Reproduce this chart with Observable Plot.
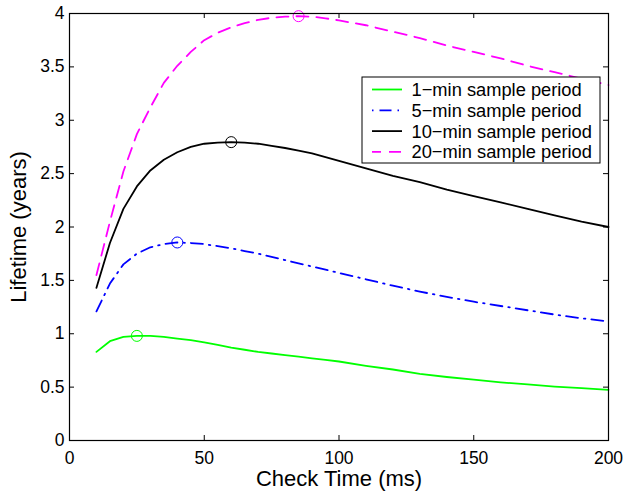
<!DOCTYPE html>
<html>
<head>
<meta charset="utf-8">
<script src="https://cdn.jsdelivr.net/npm/d3@7"></script>
<script src="https://cdn.jsdelivr.net/npm/@observablehq/plot@0.6"></script>
<style>
  html, body { margin: 0; padding: 0; background: #fff; }
  #chart { position: relative; width: 624px; height: 494px; }
  svg { font-family: "Liberation Sans", Arial, Helvetica, sans-serif; }
</style>
</head>
<body>
<div id="chart"></div>
<script>
// ---- data ----
const checkTime = [10,15,20,25,30,35,40,45,50,55,60,65,70,75,80,85,90,95,100,110,120,130,140,150,160,170,180,190,200];
const life1min  = [0.83,0.93,0.97,0.98,0.98,0.97,0.955,0.94,0.92,0.895,0.87,0.85,0.83,0.815,0.80,0.785,0.77,0.755,0.74,0.70,0.665,0.625,0.595,0.57,0.545,0.525,0.505,0.49,0.475];
const life5min  = [1.21,1.47,1.65,1.75,1.81,1.84,1.855,1.85,1.84,1.82,1.80,1.775,1.75,1.72,1.69,1.66,1.63,1.60,1.57,1.51,1.45,1.395,1.345,1.30,1.26,1.22,1.18,1.145,1.115];
const life10min = [1.43,1.85,2.17,2.38,2.53,2.63,2.70,2.75,2.78,2.79,2.795,2.79,2.78,2.76,2.74,2.715,2.69,2.655,2.62,2.55,2.48,2.42,2.35,2.29,2.23,2.17,2.11,2.05,2.0];
const life20min = [1.55,2.05,2.52,2.87,3.12,3.35,3.51,3.64,3.75,3.82,3.87,3.91,3.94,3.96,3.97,3.975,3.97,3.955,3.935,3.89,3.83,3.77,3.70,3.64,3.58,3.51,3.45,3.39,3.33];
const seriesNames = ["1\u2212min sample period","5\u2212min sample period","10\u2212min sample period","20\u2212min sample period"];
const xTicks = [0,50,100,150,200];
const yTicks = [0,0.5,1,1.5,2,2.5,3,3.5,4];
const xLabel = "Check Time (ms)";
const yLabel = "Lifetime (years)";

// ---- styles ----
const styles = [
  {stroke:"#00ff00", dash:null, legendDash:null},
  {stroke:"#0000ff", dash:"12,6,1.5,6", legendDash:"1.5,6,12,6"},
  {stroke:"#000000", dash:null, legendDash:null},
  {stroke:"#ff00ff", dash:"12,8", legendDash:"9,8,12,8"}
];
const values = [life1min, life5min, life10min, life20min];
const series = values.map((v, i) => checkTime.map((t, j) => ({t, v: v[j], s: seriesNames[i]})));
const peaks = series.map(d => d3.greatest(d, p => p.v));

const W = 624, H = 494, mL = 69, mR = 16, mT = 13, mB = 54;
const innerH = H - mT - mB;
const innerW = W - mL - mR;

const marks = [];
series.forEach((d, i) => {
  marks.push(Plot.line(d, {x:"t", y:"v", stroke: styles[i].stroke, strokeWidth: 1.8,
    strokeDasharray: styles[i].dash || undefined, strokeLinejoin:"round"}));
});
peaks.forEach((p, i) => {
  marks.push(Plot.dot([p], {x:"t", y:"v", r:5.5, stroke: styles[i].stroke, strokeWidth:1, fill:"none"}));
});
marks.push(
  Plot.tickX(xTicks, {x: d => d, stroke:"#000", strokeWidth:1, insetTop: innerH - 5}),
  Plot.tickX(xTicks, {x: d => d, stroke:"#000", strokeWidth:1, insetBottom: innerH - 5}),
  Plot.tickY(yTicks, {y: d => d, stroke:"#000", strokeWidth:1, insetRight: innerW - 5}),
  Plot.tickY(yTicks, {y: d => d, stroke:"#000", strokeWidth:1, insetLeft: innerW - 5}),
  Plot.frame({stroke:"#000", strokeWidth:1.2}),
  Plot.axisX(xTicks, {tickSize:0, tickPadding:11, fontSize:17.5, label:null, tickFormat: d => String(d)}),
  Plot.axisY(yTicks, {tickSize:0, tickPadding:5, fontSize:17.5, label:null, tickFormat: d => String(d)}),
  Plot.text([xLabel], {frameAnchor:"bottom", dy:38.5, fontSize:22, lineAnchor:"middle", textAnchor:"middle", fill:"#000"}),
  Plot.text([yLabel], {frameAnchor:"left", dx:-51, rotate:-90, fontSize:22, lineAnchor:"middle", textAnchor:"middle", fill:"#000"})
);

const chart = Plot.plot({
  width: W, height: H,
  marginLeft: mL, marginRight: mR, marginTop: mT, marginBottom: mB,
  style: {fontFamily: '"Liberation Sans", Arial, Helvetica, sans-serif', color:"#000", background:"#fff", overflow:"visible"},
  x: {domain:[0,200]},
  y: {domain:[0,4]},
  marks
});
document.getElementById("chart").appendChild(chart);

// ---- legend (inside the axes, top right) ----
const svg = d3.select(chart);
const lg = svg.append("g").attr("transform", "translate(362,77)");
lg.append("rect").attr("width", 238).attr("height", 86).attr("fill", "#fff").attr("stroke", "#000").attr("stroke-width", 1);
seriesNames.forEach((name, i) => {
  const yy = 12.5 + i * 20.8;
  lg.append("line").attr("x1", 10).attr("x2", 40).attr("y1", yy).attr("y2", yy)
    .attr("stroke", styles[i].stroke).attr("stroke-width", 1.8)
    .attr("stroke-dasharray", styles[i].legendDash);
  lg.append("text").attr("x", 49.5).attr("y", yy).attr("dy", "0.35em")
    .attr("text-anchor", "start")
    .attr("font-size", 18.3).attr("fill", "#000").text(name);
});
</script>
</body>
</html>
